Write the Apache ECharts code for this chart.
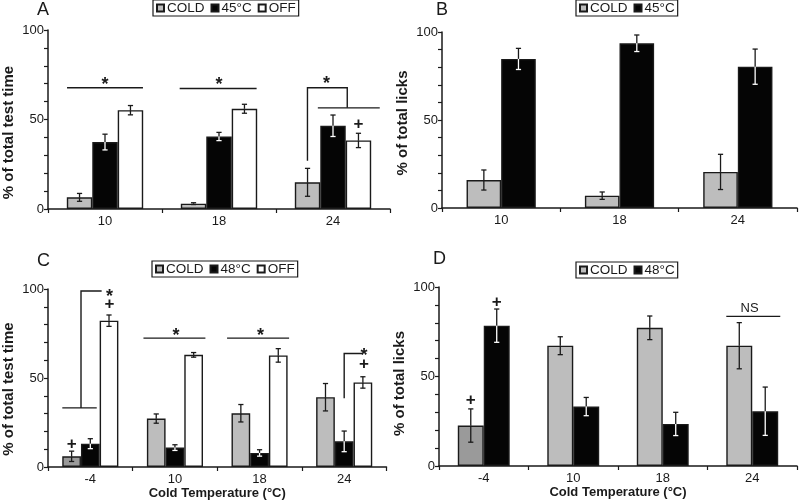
<!DOCTYPE html>
<html><head><meta charset="utf-8">
<script src="https://cdn.jsdelivr.net/npm/echarts@6/dist/echarts.min.js"></script>
<style>html,body{margin:0;padding:0;background:#fff}#c{width:800px;height:503px}</style>
</head><body><div id="c"></div>
<script>
// ---------- data ----------
const catsTop = ['10', '18', '24'];
const catsBottom = ['-4', '10', '18', '24'];
const yTickLabels = [0, 50, 100];

// Panel A: % of total test time (COLD / 45°C / OFF)
const aCold = [6.5, 3.0, 14.9],  aColdErr = [2.2, 0.5, 7.8];
const aHot  = [37.4, 40.5, 46.5], aHotErr = [4.4, 2.3, 6.0];
const aOff  = [55.2, 56.0, 38.3], aOffErr = [2.6, 2.5, 4.0];
// Panel B: % of total licks (COLD / 45°C)
const bCold = [15.9, 7.0, 20.5],  bColdErr = [5.7, 2.1, 10.0];
const bHot  = [84.7, 93.6, 80.3], bHotErr = [6.0, 4.7, 10.0];
// Panel C: % of total test time (COLD / 48°C / OFF)
const cCold = [6.0, 27.2, 30.2, 39.2],  cColdErr = [2.9, 2.6, 4.9, 7.7];
const cHot  = [13.1, 10.9, 7.9, 14.4],  cHotErr = [2.8, 1.6, 1.8, 5.8];
const cOff  = [82.2, 63.0, 62.7, 47.5], cOffErr = [3.2, 1.3, 3.8, 3.2];
// Panel D: % of total licks (COLD / 48°C)
const dCold = [22.6, 67.2, 77.2, 67.2], dColdErr = [9.3, 5.0, 6.6, 12.9];
const dHot  = [78.4, 33.2, 23.5, 30.6], dHotErr = [9.3, 5.1, 6.5, 13.5];

// significance annotations: [categoryIndex, offset in band widths, value]
const annA = [
  {line: [[0, -0.333, 67.7], [0, 0.333, 67.7]]}, {text: '*', at: [0, 0, 71.5]},
  {line: [[1, -0.345, 67.3], [1, 0.33, 67.3]]}, {text: '*', at: [1, 0, 71.5]},
  {line: [[2, -0.224, 27.0], [2, -0.224, 67.7], [2, 0.125, 67.7], [2, 0.125, 56.5]]},
  {line: [[2, -0.133, 56.5], [2, 0.41, 56.5]]},
  {text: '*', at: [2, -0.056, 72.0]}, {text: '+', at: [2, 0.224, 47.4]}
];
const annB = [];
const annC = [
  {line: [[0, -0.331, 33.2], [0, 0.076, 33.2]]},
  {line: [[0, -0.110, 33.2], [0, -0.110, 98.9], [0, 0.134, 98.9]]},
  {text: '*', at: [0, 0.227, 97.5]}, {text: '+', at: [0, 0.227, 91.4]},
  {text: '+', at: [0, -0.221, 12.8]},
  {line: [[1, -0.372, 72.4], [1, 0.36, 72.4]]}, {text: '*', at: [1, 0.012, 76.0]},
  {line: [[2, -0.384, 72.4], [2, 0.349, 72.4]]}, {text: '*', at: [2, 0.012, 76.0]},
  {line: [[3, 0, 38.6], [3, 0, 63.8], [3, 0.221, 63.8]]},
  {text: '*', at: [3, 0.233, 64.5]}, {text: '+', at: [3, 0.233, 57.6]}
];
const annD = [
  {text: '+', at: [0, -0.145, 36.6]}, {text: '+', at: [0, 0.145, 91.4]},
  {line: [[3, -0.29, 83.6], [3, 0.313, 83.6]]}, {text: 'NS', at: [3, -0.03, 87.8]}
];

// ---------- styles ----------
const FONT = '"Liberation Sans", Arial, Helvetica, sans-serif';
const INK = '#1a1a1a';
const COLD = '#bdbdbd', COLD_DARK = '#9a9a9a', HOT = '#050505', OFF = '#ffffff';

const panels = [
  {letter: 'A', letterPos: [37, 10.5], grid: {left: 43, top: 30, width: 347, height: 179}, cats: catsTop, gap: 0.33,
   series: [{name: 'COLD', v: aCold, e: aColdErr, color: COLD}, {name: '45°C', v: aHot, e: aHotErr, color: HOT, dark: true}, {name: 'OFF', v: aOff, e: aOffErr, color: OFF}],
   yName: '% of total test time', yShift: 26, xName: '', legend: {left: 153, top: 0}, ann: annA},
  {letter: 'B', letterPos: [436, 10], grid: {left: 442, top: 32, width: 355, height: 176}, cats: catsTop, gap: 0.415,
   series: [{name: 'COLD', v: bCold, e: bColdErr, color: COLD}, {name: '45°C', v: bHot, e: bHotErr, color: HOT, dark: true}],
   yName: '% of total licks', yShift: 6, xName: '', legend: {left: 576, top: 0}, ann: annB},
  {letter: 'C', letterPos: [37, 261], grid: {left: 42.5, top: 289, width: 344, height: 178}, cats: catsBottom, gap: 0.337,
   series: [{name: 'COLD', v: cCold, e: cColdErr, color: COLD, first: COLD_DARK}, {name: '48°C', v: cHot, e: cHotErr, color: HOT, dark: true}, {name: 'OFF', v: cOff, e: cOffErr, color: OFF}],
   yName: '% of total test time', yShift: 22, xName: 'Cold Temperature (°C)', legend: {left: 152, top: 261}, ann: annC},
  {letter: 'D', letterPos: [433, 259], grid: {left: 439, top: 287, width: 358, height: 179}, cats: catsBottom, gap: 0.42,
   series: [{name: 'COLD', v: dCold, e: dColdErr, color: COLD, first: COLD_DARK}, {name: '48°C', v: dHot, e: dHotErr, color: HOT, dark: true}],
   yName: '% of total licks', yShift: 14, xName: 'Cold Temperature (°C)', legend: {left: 576, top: 262}, ann: annD}
];

function errRender(k, n, gap, dark) {
  return function (params, api) {
    const idx = api.value(0), v = api.value(1), e = api.value(2);
    const bw = api.size([1, 0])[0];
    const barW = bw * (1 - gap) / n;
    const off = (k - (n - 1) / 2) * barW;
    const top = api.coord([idx, v + e]), mid = api.coord([idx, v]), bot = api.coord([idx, v - e]);
    const x = top[0] + off, cap = 2.6;
    const low = dark ? '#ffffff' : INK;
    const ls = (c) => ({stroke: c, lineWidth: 1.3});
    return {type: 'group', children: [
      {type: 'line', shape: {x1: x, y1: top[1], x2: x, y2: mid[1]}, style: ls(INK)},
      {type: 'line', shape: {x1: x, y1: mid[1], x2: x, y2: bot[1]}, style: ls(low)},
      {type: 'line', shape: {x1: x - cap, y1: top[1], x2: x + cap, y2: top[1]}, style: ls(INK)},
      {type: 'line', shape: {x1: x - cap, y1: bot[1], x2: x + cap, y2: bot[1]}, style: ls(low)}
    ]};
  };
}

function annRender(ann) {
  return function (params, api) {
    const bw = api.size([1, 0])[0];
    const P = (c, o, y) => { const p = api.coord([c, y]); return [p[0] + o * bw, p[1]]; };
    const children = [];
    ann.forEach(a => {
      if (a.line) {
        children.push({type: 'polyline', shape: {points: a.line.map(q => P(q[0], q[1], q[2]))},
          style: {stroke: INK, lineWidth: 1.4, fill: null}});
      } else {
        const p = P(a.at[0], a.at[1], a.at[2]);
        const isStar = a.text === '*';
        children.push({type: 'text', x: p[0], y: p[1] + (isStar ? 4 : 0),
          style: {text: a.text, fill: INK, align: 'center', verticalAlign: 'middle',
            font: a.text === 'NS' ? 'normal 13px ' + FONT : (isStar ? 'bold 18px ' + FONT : 'bold 17px ' + FONT)}});
      }
    });
    return {type: 'group', children};
  };
}

const option = {
  backgroundColor: '#fff',
  animation: false,
  textStyle: {fontFamily: FONT},
  grid: [], xAxis: [], yAxis: [], series: [], legend: [], graphic: []
};

panels.forEach((p, pi) => {
  option.grid.push(p.grid);
  option.xAxis.push({
    type: 'category', gridIndex: pi, data: p.cats,
    name: p.xName, nameLocation: 'middle', nameGap: 18,
    nameTextStyle: {fontFamily: FONT, fontWeight: 'bold', fontSize: 13, color: INK},
    axisLine: {lineStyle: {color: INK, width: 1.5}},
    axisTick: {show: true, length: 4, lineStyle: {color: INK, width: 1.2}},
    axisLabel: {color: INK, fontFamily: FONT, fontSize: 13, margin: 6},
    splitLine: {show: false}
  });
  option.yAxis.push({
    type: 'value', gridIndex: pi, min: 0, max: 100, interval: 10,
    name: p.yName, nameLocation: 'middle', nameGap: 32,
    nameTextStyle: {fontFamily: FONT, fontWeight: 'bold', fontSize: 15, color: INK, padding: [0, p.yShift, 0, 0]},
    axisLine: {show: true, lineStyle: {color: INK, width: 1.5}},
    axisTick: {show: true, length: 4, lineStyle: {color: INK, width: 1.2}},
    axisLabel: {color: INK, fontFamily: FONT, fontSize: 13, margin: 4,
      formatter: v => (yTickLabels.indexOf(v) >= 0 ? String(v) : '')},
    splitLine: {show: false}
  });
  const n = p.series.length;
  p.series.forEach((s, k) => {
    option.series.push({
      type: 'bar', name: s.name, xAxisIndex: pi, yAxisIndex: pi,
      barGap: '0%', barCategoryGap: (p.gap * 100) + '%',
      data: s.v.map((val, i) => (i === 0 && s.first) ? {value: val, itemStyle: {color: s.first}} : val),
      itemStyle: {color: s.color, borderColor: INK, borderWidth: 1.4},
      emphasis: {disabled: true}
    });
  });
  p.series.forEach((s, k) => {
    option.series.push({
      type: 'custom', xAxisIndex: pi, yAxisIndex: pi, silent: true, z: 5, clip: false,
      encode: {x: 0, y: 1},
      data: s.v.map((val, i) => [i, val, s.e[i]]),
      renderItem: errRender(k, n, p.gap, !!s.dark)
    });
  });
  if (p.ann.length) {
    option.series.push({
      type: 'custom', xAxisIndex: pi, yAxisIndex: pi, silent: true, z: 6, clip: false,
      encode: {x: 0, y: 1}, data: [[0, 0]],
      renderItem: annRender(p.ann)
    });
  }
  option.legend.push({
    left: p.legend.left, top: p.legend.top,
    data: p.series.map(s => ({name: s.name, icon: 'rect'})),
    orient: 'horizontal', selectedMode: false,
    itemWidth: 7, itemHeight: 7, itemGap: 6,
    padding: [1, 3, 1, 3],
    borderColor: INK, borderWidth: 1.2,
    textStyle: {fontFamily: FONT, fontSize: 13.5, color: INK, padding: [0, 0, 0, -2]}
  });
  option.graphic.push({
    type: 'text', left: p.letterPos[0], top: p.letterPos[1] - 9,
    style: {text: p.letter, font: 'normal 18px ' + FONT, fill: INK}
  });
});

const chart = echarts.init(document.getElementById('c'), null, {renderer: 'canvas'});
chart.setOption(option);
</script>
</body></html>
